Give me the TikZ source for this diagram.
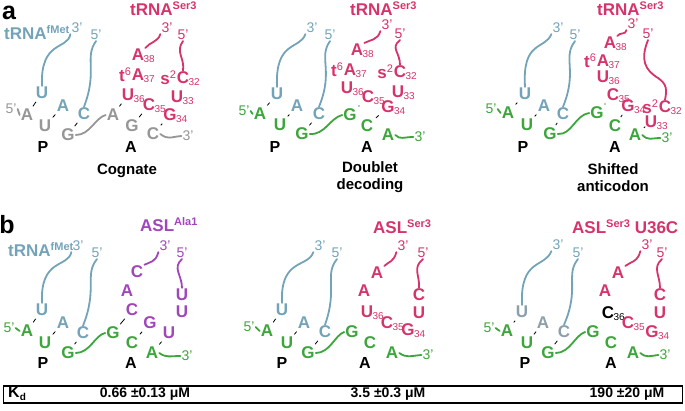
\documentclass[tikz,border=0pt]{standalone}
\usepackage{fontspec}
\setmainfont{Liberation Sans}
\definecolor{bl}{RGB}{115,163,185}
\definecolor{rd}{RGB}{214,51,108}
\definecolor{gn}{RGB}{60,165,60}
\definecolor{pu}{RGB}{160,70,185}
\definecolor{gy}{RGB}{150,150,150}
\definecolor{bgy}{RGB}{140,160,172}
\newcommand\lsup[1]{\raisebox{6pt}{\fontsize{11}{11}\selectfont #1}}
\newcommand\nsup[1]{\raisebox{6pt}{\fontsize{11}{11}\selectfont\mdseries #1}}
\newcommand\nuc[5]{\node[nt,text=#4] (#1) at (#2,#3) {#5};}
\newcommand\nsub[3]{\node[subt,text=#2,anchor=west] at ([xshift=-2pt,yshift=-4pt]#1.east) {#3};}
\newcommand\npre[3]{\node[nt,text=#2,anchor=east] at ([xshift=1.5pt]#1.west) {#3};}
\begin{document}
\begin{tikzpicture}[x=1pt,y=-1pt,
  nt/.style={font=\fontsize{17}{17}\selectfont\bfseries, inner sep=1pt},
  subt/.style={font=\fontsize{10}{10}\selectfont, inner sep=0pt},
  endt/.style={font=\fontsize{14}{14}\selectfont, inner sep=1pt},
  ttl/.style={font=\fontsize{17}{17}\selectfont\bfseries, inner sep=0pt, anchor=west},
  site/.style={font=\fontsize{16}{16}\selectfont\bfseries, inner sep=0pt},
  captxt/.style={font=\fontsize{15}{17}\selectfont\bfseries, align=center, inner sep=0pt},
  panel/.style={font=\fontsize{25}{25}\selectfont\bfseries, inner sep=0pt},
  bb/.style={line width=1.8pt, line cap=round},
  tie/.style={line width=0.8pt, shorten <=2pt, shorten >=2pt}]
\useasboundingbox (0,0) rectangle (685,411);
\node[panel] (pa) at (9,13) {a};
\node[panel] (pb) at (7,225) {b};

% ================= panel a1 =================
\node[ttl,text=bl] (t1) at (4,33) {tRNA\lsup{fMet}};
\node[endt,text=bl] (a1b3) at (77,28) {3'};
\node[endt,text=bl] (a1b5) at (96,35) {5'};
\nuc{a1bU}{42}{93}{bl}{U}\nuc{a1bA}{63}{106}{bl}{A}\nuc{a1bC}{84}{114}{bl}{C}
\node[endt,text=gy] (a1m5) at (11,109) {5'};
\nuc{a1m1}{27}{115}{gy}{A}\nuc{a1m2}{45}{126}{gy}{U}\nuc{a1m3}{68}{135}{gy}{G}
\nuc{a1m4}{113}{115}{gy}{A}\nuc{a1m5n}{132}{126}{gy}{G}\nuc{a1m6}{153}{134}{gy}{C}
\node[endt,text=gy] (a1m3p) at (188,136) {3'};
\node[ttl,text=rd] (t2) at (130,9) {tRNA\lsup{Ser3}};
\node[endt,text=rd] (a1r3) at (167,28) {3'};
\node[endt,text=rd] (a1r5) at (183,35) {5'};
\nuc{a1r38}{138}{55}{rd}{A}\nsub{a1r38}{rd}{38}
\nuc{a1r37}{138}{75}{rd}{A}\nsub{a1r37}{rd}{37}\npre{a1r37}{rd}{t\nsup{6}}
\nuc{a1r36}{128}{95}{rd}{U}\nsub{a1r36}{rd}{36}
\nuc{a1r35}{149}{105}{rd}{C}\nsub{a1r35}{rd}{35}
\nuc{a1r34}{170}{115}{rd}{G}\nsub{a1r34}{rd}{34}
\nuc{a1r33}{177}{97}{rd}{U}\nsub{a1r33}{rd}{33}
\nuc{a1r32}{183}{78}{rd}{C}\nsub{a1r32}{rd}{32}\npre{a1r32}{rd}{s\nsup{2}}
\draw[bb,bl] (a1b3.south west) .. controls (68,50) and (40,40) .. (a1bU.north);
\draw[bb,bl] (a1b5.south) .. controls (84,58) and (98,70) .. (a1bC.north);
\draw[bb,gy] (a1m5.east) -- (a1m1.west);
\draw[bb,gy] (a1m3.east) .. controls (90,135) and (95,118) .. (a1m4.west);
\draw[bb,gy] (a1m6.east) .. controls (168,140) and (170,137) .. (a1m3p.west);
\draw[bb,rd] (a1r3.south west) .. controls (158,42) and (150,42) .. (a1r38.north east);
\draw[bb,rd] (a1r5.south) .. controls (175,52) and (185,58) .. (a1r32.north);
\draw[tie] (a1bU) -- (a1m1); \draw[tie] (a1bA) -- (a1m2); \draw[tie] (a1bC) -- (a1m3);
\draw[tie] (a1r36) -- (a1m4); \draw[tie] (a1r35) -- (a1m5n); \draw[tie] (a1r34) -- (a1m6);
\node[site] (a1P) at (43,147) {P};\node[site] (a1A) at (131,147) {A};
\node[captxt] (c1) at (127,171) {Cognate};

% ================= panel a2 =================
\node[endt,text=bl] (a2b3) at (312,28) {3'};
\node[endt,text=bl] (a2b5) at (330,35) {5'};
\nuc{a2bU}{277}{94}{bl}{U}\nuc{a2bA}{297}{106}{bl}{A}\nuc{a2bC}{319}{114}{bl}{C}
\node[endt,text=gn] (a2m5) at (244,111) {5'};
\nuc{a2m1}{260}{114}{gn}{A}\nuc{a2m2}{280}{125}{gn}{U}\nuc{a2m3}{302}{134}{gn}{G}
\nuc{a2m4}{350}{115}{gn}{G}\nuc{a2m5n}{367}{126}{gn}{C}\nuc{a2m6}{388}{135}{gn}{A}
\node[endt,text=gn] (a2m3p) at (420,137) {3'};
\node[ttl,text=rd] (t3) at (350,9) {tRNA\lsup{Ser3}};
\node[endt,text=rd] (a2r3) at (387,25) {3'};
\node[endt,text=rd] (a2r5) at (400,34) {5'};
\nuc{a2r38}{357}{50}{rd}{A}\nsub{a2r38}{rd}{38}
\nuc{a2r37}{350}{70}{rd}{A}\nsub{a2r37}{rd}{37}\npre{a2r37}{rd}{t\nsup{6}}
\nuc{a2r36}{347}{88}{rd}{U}\nsub{a2r36}{rd}{36}
\nuc{a2r35}{368}{97}{rd}{C}\nsub{a2r35}{rd}{35}
\nuc{a2r34}{388}{107}{rd}{G}\nsub{a2r34}{rd}{34}
\nuc{a2r33}{398}{92}{rd}{U}\nsub{a2r33}{rd}{33}
\nuc{a2r32}{400}{72}{rd}{C}\nsub{a2r32}{rd}{32}\npre{a2r32}{rd}{s\nsup{2}}
\draw[bb,bl] (a2b3.south west) .. controls (300,50) and (275,40) .. (a2bU.north);
\draw[bb,bl] (a2b5.south) .. controls (318,58) and (334,70) .. (a2bC.north);
\draw[bb,gn] (a2m5.east) -- (a2m1.west);
\draw[bb,gn] (a2m3.east) .. controls (325,135) and (330,118) .. (a2m4.west);
\draw[bb,gn] (a2m6.east) .. controls (400,140) and (404,137) .. (a2m3p.west);
\draw[bb,rd] (a2r3.south west) .. controls (378,40) and (370,40) .. (a2r38.north east);
\draw[bb,rd] (a2r5.south) .. controls (390,48) and (400,52) .. (a2r32.north);
\draw[tie] (a2bU) -- (a2m1); \draw[tie] (a2bA) -- (a2m2); \draw[tie] (a2bC) -- (a2m3);
\draw[tie] (a2r35) -- (a2m4); \draw[tie] (a2r34) -- (a2m5n);
\node[site] (a2P) at (275,147) {P};\node[site] (a2A) at (367,147) {A};
\node[captxt] (c2) at (370,177) {Doublet\\decoding};

% ================= panel a3 =================
\node[endt,text=bl] (a3b3) at (558,28) {3'};
\node[endt,text=bl] (a3b5) at (575,35) {5'};
\nuc{a3bU}{525}{94}{bl}{U}\nuc{a3bA}{544}{106}{bl}{A}\nuc{a3bC}{563}{114}{bl}{C}
\node[endt,text=gn] (a3m5) at (491,109) {5'};
\nuc{a3m1}{508}{113}{gn}{A}\nuc{a3m2}{527}{125}{gn}{U}\nuc{a3m3}{550}{134}{gn}{G}
\nuc{a3m4}{597}{113}{gn}{G}\nuc{a3m5n}{615}{126}{gn}{C}\nuc{a3m6}{635}{135}{gn}{A}
\node[endt,text=gn] (a3m3p) at (667,138) {3'};
\node[ttl,text=rd] (t4) at (597,9) {tRNA\lsup{Ser3}};
\node[endt,text=rd] (a3r3) at (633,24) {3'};
\node[endt,text=rd] (a3r5) at (648,34) {5'};
\nuc{a3r38}{610}{43}{rd}{A}\nsub{a3r38}{rd}{38}
\nuc{a3r37}{603}{61}{rd}{A}\nsub{a3r37}{rd}{37}\npre{a3r37}{rd}{t\nsup{6}}
\nuc{a3r36}{603}{77}{rd}{U}\nsub{a3r36}{rd}{36}
\nuc{a3r35}{613}{95}{rd}{C}\nsub{a3r35}{rd}{35}
\nuc{a3r34}{628}{106}{rd}{G}\nsub{a3r34}{rd}{34}
\nuc{a3r33}{651}{122}{rd}{U}\nsub{a3r33}{rd}{33}
\nuc{a3r32}{665}{107}{rd}{C}\nsub{a3r32}{rd}{32}\npre{a3r32}{rd}{s\nsup{2}}
\draw[bb,bl] (a3b3.south west) .. controls (545,50) and (522,40) .. (a3bU.north);
\draw[bb,bl] (a3b5.south) .. controls (562,58) and (578,70) .. (a3bC.north);
\draw[bb,gn] (a3m5.east) -- (a3m1.west);
\draw[bb,gn] (a3m3.east) .. controls (572,135) and (575,115) .. (a3m4.west);
\draw[bb,gn] (a3m6.east) .. controls (648,141) and (652,138) .. (a3m3p.west);
\draw[bb,rd] (a3r3.south west) .. controls (626,35) and (620,32) .. (a3r38.north east);
\draw[bb,rd] (a3r5.south) .. controls (640,60) and (645,70) .. (658,78) .. controls (667,84) and (667,90) .. (a3r32.north);
\draw[tie] (a3bU) -- (a3m1); \draw[tie] (a3bA) -- (a3m2); \draw[tie] (a3bC) -- (a3m3);
\draw[tie] (a3r35) -- (a3m4); \draw[tie] (a3r34) -- (a3m5n); \draw[tie] (a3r33) -- (a3m6);
\node[site] (a3P) at (523,147) {P};\node[site] (a3A) at (615,147) {A};
\node[captxt] (c3) at (613,178) {Shifted\\anticodon};

% ================= panel b1 =================
\node[ttl,text=bl] (t5) at (8,250) {tRNA\lsup{fMet}};
\node[endt,text=bl] (b1b3) at (78,246) {3'};
\node[endt,text=bl] (b1b5) at (97,253) {5'};
\nuc{b1bU}{42}{310}{bl}{U}\nuc{b1bA}{63}{323}{bl}{A}\nuc{b1bC}{83}{333}{bl}{C}
\node[endt,text=gn] (b1m5) at (9,328) {5'};
\nuc{b1m1}{27}{331}{gn}{A}\nuc{b1m2}{45}{343}{gn}{U}\nuc{b1m3}{68}{353}{gn}{G}
\nuc{b1m4}{113}{333}{gn}{G}\nuc{b1m5n}{132}{343}{gn}{C}\nuc{b1m6}{152}{353}{gn}{A}
\node[endt,text=gn] (b1m3p) at (187,356) {3'};
\node[ttl,text=pu] (t6) at (140,225) {ASL\lsup{Ala1}};
\node[endt,text=pu] (b1r3) at (165,246) {3'};
\node[endt,text=pu] (b1r5) at (182,253) {5'};
\nuc{b1p1}{137}{272}{pu}{C}\nuc{b1p2}{127}{291}{pu}{A}\nuc{b1p3}{132}{310}{pu}{C}
\nuc{b1p4}{150}{323}{pu}{G}\nuc{b1p5}{169}{333}{pu}{U}
\nuc{b1p6}{182}{295}{pu}{U}\nuc{b1p7}{182}{312}{pu}{U}
\draw[bb,bl] (b1b3.south west) .. controls (68,268) and (40,258) .. (b1bU.north);
\draw[bb,bl] (b1b5.south) .. controls (84,275) and (98,288) .. (b1bC.north);
\draw[bb,gn] (b1m5.east) -- (b1m1.west);
\draw[bb,gn] (b1m3.east) .. controls (90,353) and (95,335) .. (b1m4.west);
\draw[bb,gn] (b1m6.east) .. controls (166,358) and (170,356) .. (b1m3p.west);
\draw[bb,pu] (b1r3.south west) .. controls (156,262) and (150,262) .. (b1p1.north east);
\draw[bb,pu] (b1r5.south) .. controls (172,268) and (182,275) .. (b1p6.north);
\draw[tie] (b1bU) -- (b1m1); \draw[tie] (b1bA) -- (b1m2); \draw[tie] (b1bC) -- (b1m3);
\draw[tie] (b1p3) -- (b1m4); \draw[tie] (b1p4) -- (b1m5n); \draw[tie] (b1p5) -- (b1m6);
\node[site] (b1P) at (43,363) {P};\node[site] (b1A) at (131,363) {A};

% ================= panel b2 =================
\node[endt,text=bl] (b2b3) at (320,246) {3'};
\node[endt,text=bl] (b2b5) at (337,253) {5'};
\nuc{b2bU}{282}{310}{bl}{U}\nuc{b2bA}{304}{323}{bl}{A}\nuc{b2bC}{325}{332}{bl}{C}
\node[endt,text=gn] (b2m5) at (249,327) {5'};
\nuc{b2m1}{267}{331}{gn}{A}\nuc{b2m2}{287}{343}{gn}{U}\nuc{b2m3}{308}{353}{gn}{G}
\nuc{b2m4}{352}{332}{gn}{G}\nuc{b2m5n}{370}{343}{gn}{C}\nuc{b2m6}{392}{353}{gn}{A}
\node[endt,text=gn] (b2m3p) at (428,355) {3'};
\node[ttl,text=rd] (t7) at (373,227) {ASL\lsup{Ser3}};
\node[endt,text=rd] (b2r3) at (403,246) {3'};
\node[endt,text=rd] (b2r5) at (423,253) {5'};
\nuc{b2r1}{377}{273}{rd}{A}\nuc{b2r2}{364}{291}{rd}{A}
\nuc{b2r36}{367}{312}{rd}{U}\nsub{b2r36}{rd}{36}
\nuc{b2r35}{387}{323}{rd}{C}\nsub{b2r35}{rd}{35}
\nuc{b2r34}{408}{330}{rd}{G}\nsub{b2r34}{rd}{34}
\nuc{b2r6}{419}{295}{rd}{C}\nuc{b2r7}{419}{313}{rd}{U}
\draw[bb,bl] (b2b3.south west) .. controls (308,268) and (280,258) .. (b2bU.north);
\draw[bb,bl] (b2b5.south) .. controls (324,275) and (338,288) .. (b2bC.north);
\draw[bb,gn] (b2m5.east) -- (b2m1.west);
\draw[bb,gn] (b2m3.east) .. controls (330,353) and (335,335) .. (b2m4.west);
\draw[bb,gn] (b2m6.east) .. controls (406,358) and (410,356) .. (b2m3p.west);
\draw[bb,rd] (b2r3.south west) .. controls (394,262) and (388,262) .. (b2r1.north east);
\draw[bb,rd] (b2r5.south) .. controls (412,268) and (420,275) .. (b2r6.north);
\draw[tie] (b2bU) -- (b2m1); \draw[tie] (b2bA) -- (b2m2); \draw[tie] (b2bC) -- (b2m3);
\node[site] (b2P) at (282,363) {P};\node[site] (b2A) at (365,363) {A};

% ================= panel b3 =================
\node[endt,text=bl] (b3b3) at (558,245) {3'};
\node[endt,text=bl] (b3b5) at (578,253) {5'};
\nuc{b3bU}{522}{312}{bgy}{U}\nuc{b3bA}{543}{323}{bgy}{A}\nuc{b3bC}{564}{332}{bgy}{C}
\node[endt,text=gn] (b3m5) at (489,328) {5'};
\nuc{b3m1}{507}{331}{gn}{A}\nuc{b3m2}{527}{343}{gn}{U}\nuc{b3m3}{548}{353}{gn}{G}
\nuc{b3m4}{593}{332}{gn}{G}\nuc{b3m5n}{611}{343}{gn}{C}\nuc{b3m6}{633}{353}{gn}{A}
\node[endt,text=gn] (b3m3p) at (665,355) {3'};
\node[ttl,text=rd] (t8) at (572,227) {ASL\lsup{Ser3} U36C};
\node[endt,text=rd] (b3r3) at (647,245) {3'};
\node[endt,text=rd] (b3r5) at (662,253) {5'};
\nuc{b3r1}{618}{273}{rd}{A}\nuc{b3r2}{605}{291}{rd}{A}
\nuc{b3r36}{608}{313}{black}{C}\nsub{b3r36}{black}{36}
\nuc{b3r35}{628}{323}{rd}{C}\nsub{b3r35}{rd}{35}
\nuc{b3r34}{652}{332}{rd}{G}\nsub{b3r34}{rd}{34}
\nuc{b3r6}{660}{295}{rd}{C}\nuc{b3r7}{660}{313}{rd}{U}
\draw[bb,bl] (b3b3.south west) .. controls (545,268) and (520,258) .. (b3bU.north);
\draw[bb,bl] (b3b5.south) .. controls (565,275) and (580,288) .. (b3bC.north);
\draw[bb,gn] (b3m5.east) -- (b3m1.west);
\draw[bb,gn] (b3m3.east) .. controls (570,353) and (575,335) .. (b3m4.west);
\draw[bb,gn] (b3m6.east) .. controls (646,358) and (650,356) .. (b3m3p.west);
\draw[bb,rd] (b3r3.south west) .. controls (638,262) and (630,262) .. (b3r1.north east);
\draw[bb,rd] (b3r5.south) .. controls (652,268) and (660,275) .. (b3r6.north);
\draw[tie] (b3bU) -- (b3m1); \draw[tie] (b3bA) -- (b3m2); \draw[tie] (b3bC) -- (b3m3);
\node[site] (b3P) at (525,363) {P};\node[site] (b3A) at (611,363) {A};

% ================= Kd row =================
\node[draw, line width=1.5pt, minimum width=679pt, minimum height=17pt, inner sep=0pt] (kdbox) at (343,394.5) {};
\node[site, anchor=west] (kd) at (8,394) {K\raisebox{-3pt}{\fontsize{10}{10}\selectfont d}};
\node[site, font=\fontsize{14}{14}\selectfont\bfseries] (kd1) at (145,394) {0.66 ±0.13 μM};
\node[site, font=\fontsize{14}{14}\selectfont\bfseries] (kd2) at (388,394) {3.5 ±0.3 μM};
\node[site, font=\fontsize{14}{14}\selectfont\bfseries] (kd3) at (627,394) {190 ±20 μM};
\end{tikzpicture}
\end{document}
